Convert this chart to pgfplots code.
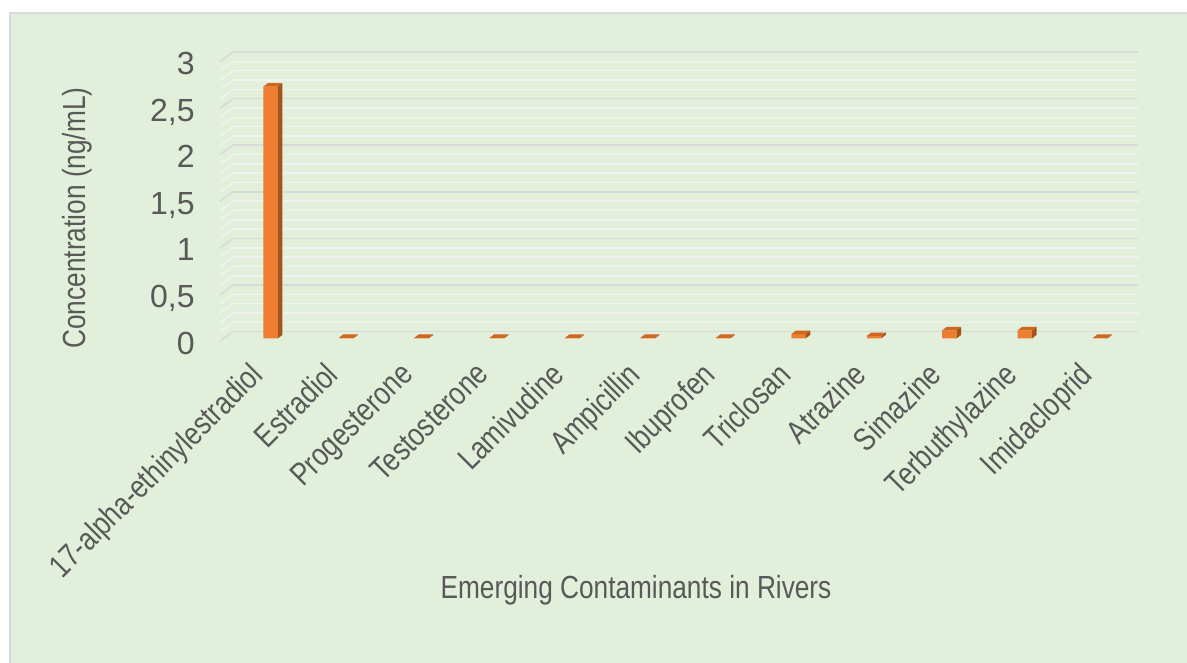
\documentclass[border=0pt]{standalone}
\usepackage{pgfplots}
\pgfplotsset{compat=1.18}
\usepackage{pgfplotstable}
\usepackage{fontspec}
\setmainfont{Liberation Sans}[FakeStretch=0.82]
\newfontfamily\valuefont{Liberation Sans}

\definecolor{panelgreen}{HTML}{E2EFDA}
\definecolor{panelborder}{HTML}{D9D9D9}
\definecolor{txt}{HTML}{595959}
\definecolor{gridmajor}{HTML}{D9D9D9}
\definecolor{gridminor}{HTML}{F2F2F2}
\definecolor{barfront}{HTML}{ED7D31}
\definecolor{bartop}{HTML}{D0661F}
\definecolor{barside}{HTML}{A3541C}

% concentrations (ng/mL)
\pgfplotstableread{
x val
0  2.70
1  0.005
2  0.005
3  0.005
4  0.005
5  0.005
6  0.005
7  0.045
8  0.025
9  0.085
10 0.085
11 0.005
}\rivers

% one data unit on the y axis, in pt
\def\yunitpt{46.6167pt}

% depth faces (top and right side) of a 3D column, drawn at the column's top
\pgfdeclareplotmark{depth3d}{%
  \pgfmathsetlengthmacro\barh{\barval*\yunitpt}%
  \pgfsetfillcolor{bartop}%
  \pgfpathmoveto{\pgfqpoint{-3.65pt}{0pt}}%
  \pgfpathlineto{\pgfqpoint{3.65pt}{0pt}}%
  \pgfpathlineto{\pgfqpoint{5.85pt}{1.7pt}}%
  \pgfpathlineto{\pgfqpoint{-1.45pt}{1.7pt}}%
  \pgfpathclose
  \pgfusepathqfill
  \pgfsetfillcolor{barside}%
  \pgfpathmoveto{\pgfqpoint{3.65pt}{0pt}}%
  \pgfpathlineto{\pgfqpoint{5.85pt}{1.7pt}}%
  \pgfpathlineto{\pgfpoint{5.85pt}{1.7pt-\barh}}%
  \pgfpathlineto{\pgfpoint{3.65pt}{-\barh}}%
  \pgfpathclose
  \pgfusepathqfill
}

\begin{document}
\begin{tikzpicture}
\useasboundingbox (0,0) rectangle (593.5pt,331.5pt);
\fill[white] (0,0) rectangle (593.5pt,331.5pt);
\filldraw[fill=panelgreen, draw=panelborder, line width=1pt]
  (5pt,-5pt) rectangle (600pt,324.75pt);

\begin{axis}[
  scale only axis,
  width=452.5pt, height=139.85pt,
  at={(116.5pt,165.65pt)}, anchor=south west,
  xmin=-0.5, xmax=11.5, ymin=0, ymax=3,
  enlargelimits=false,
  clip=false,
  axis line style={draw=none},
  major tick length=0pt, minor tick length=0pt,
  tick style={draw=none},
  xtick={0,...,11},
  xticklabels={17-alpha-ethinylestradiol,Estradiol,Progesterone,Testosterone,Lamivudine,Ampicillin,Ibuprofen,Triclosan,Atrazine,Simazine,Terbuthylazine,Imidacloprid},
  ytick={0,0.5,1,1.5,2,2.5,3},
  yticklabels={0,{0,5},1,{1,5},2,{2,5},3},
  minor ytick={0.1,0.2,0.3,0.4,0.6,0.7,0.8,0.9,1.1,1.2,1.3,1.4,1.6,1.7,1.8,1.9,2.1,2.2,2.3,2.4,2.6,2.7,2.8,2.9},
  ymajorgrids, yminorgrids,
  major grid style={color=gridmajor, line width=0.8pt},
  minor grid style={color=gridminor, line width=0.75pt},
  ticklabel style={font=\fontsize{16pt}{19pt}\selectfont, text=txt, inner sep=0pt},
  yticklabel style={font=\valuefont\fontsize{16pt}{19pt}\selectfont, anchor=base east, xshift=-19pt, yshift=-11.25pt},
  xticklabel style={xshift=-11.35pt, yshift=-14.15pt, rotate=45, anchor=north east},
  xlabel={Emerging Contaminants in Rivers},
  ylabel={Concentration (ng/mL)},
  label style={font=\fontsize{16pt}{19pt}\selectfont, text=txt, inner sep=0pt},
  xlabel style={at={(axis description cs:0.4453,-0.9235)}, anchor=center},
  ylabel style={at={(axis description cs:-0.1724,0.4065)}, anchor=center, rotate=0},
]
% receding ends of the grid lines at the left wall
\pgfplotsinvokeforeach{0.1,0.2,0.3,0.4,0.6,0.7,0.8,0.9,1.1,1.2,1.3,1.4,1.6,1.7,1.8,1.9,2.1,2.2,2.3,2.4,2.6,2.7,2.8,2.9}{
  \draw[gridminor, line width=0.75pt] (axis cs:-0.5,#1) -- ++(-6.5pt,-4.75pt);
}
\pgfplotsinvokeforeach{0,0.5,1,1.5,2,2.5,3}{
  \draw[gridmajor, line width=0.8pt] (axis cs:-0.5,#1) -- ++(-6.5pt,-4.75pt);
}
% column fronts
\addplot[ybar, bar width=7.3pt, fill=barfront, draw=none, yshift=-3.3pt]
  table[x=x, y=val] {\rivers};
% column tops and sides
\addplot[only marks, mark=depth3d, yshift=-3.3pt,
  visualization depends on={\thisrow{val} \as \barval}]
  table[x=x, y=val] {\rivers};
\end{axis}
\end{tikzpicture}
\end{document}
